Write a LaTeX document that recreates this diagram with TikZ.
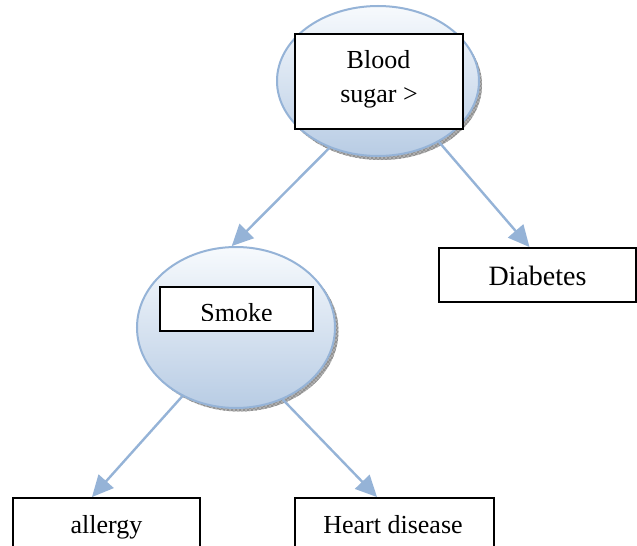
\documentclass[tikz,border=0pt]{standalone}
\usepackage{fontspec}
\setmainfont{Liberation Serif}
\usetikzlibrary{arrows.meta,patterns,shapes.geometric}
\definecolor{edgeblue}{RGB}{149,179,215}
\definecolor{elltop}{RGB}{247,250,253}
\definecolor{ellbot}{RGB}{184,204,228}
\begin{document}
\begin{tikzpicture}[x=0.75pt,y=-0.75pt,
  ell/.style={ellipse, draw=edgeblue, line width=1.5pt, top color=elltop, bottom color=ellbot, inner sep=0},
  shad/.style={ellipse, draw=none, inner sep=0, preaction={fill=gray!60}, pattern=crosshatch, pattern color=gray!90},
  box/.style={rectangle, draw=black, line width=1.4pt, fill=white, inner sep=0},
  lbl/.style={anchor=base, inner sep=0, font=\fontsize{19.5}{23}\selectfont},
  lblbig/.style={anchor=base, inner sep=0, font=\fontsize{21}{25}\selectfont},
  arr/.style={draw=edgeblue, line width=1.8pt, -{Triangle[length=16pt,width=15pt]}}]
\clip (0,0) rectangle (637,546);
\fill[white] (0,0) rectangle (637,546);
% shadows
\node[shad, minimum width=151.5pt, minimum height=112.5pt] (sh1) at (381,85) {};
\node[shad, minimum width=148.5pt, minimum height=120.75pt] (sh2) at (239.5,331) {};
% ellipses
\node[ell, minimum width=151.5pt, minimum height=112.5pt] (top) at (378,81) {};
\node[ell, minimum width=148.5pt, minimum height=120.75pt] (smoke) at (236,327.5) {};
% boxes
\node[box, minimum width=126pt, minimum height=71.25pt] (blood) at (379,81.5) {};
\node[box, minimum width=114.75pt, minimum height=33pt] (smokebox) at (236.5,309) {};
\node[box, minimum width=147.75pt, minimum height=40.5pt] (diab) at (537.5,275) {};
\node[box, minimum width=140.25pt, minimum height=46.5pt] (allergy) at (106.5,529) {};
\node[box, minimum width=149.25pt, minimum height=46.5pt] (heart) at (394.5,529) {};
% arrows
\draw[arr] (top.234) -- (smoke.93);
\draw[arr] (top.-45) -- ([xshift=-6pt]diab.north);
\draw[arr] (smoke.-128) -- ([xshift=-10.9pt]allergy.north);
\draw[arr] (smoke.-57) -- ([xshift=-13.1pt]heart.north);
% texts
\node[lbl] (bloodt) at (378.5,69) {Blood};
\node[lbl] (sugart) at (379,103) {sugar >};
\begin{scope}
\clip (160,280) rectangle (313,320.5);
\node[lbl] (smoket) at (236.5,321) {Smoke};
\end{scope}
\node[lblbig] (diabt) at (537.5,285) {Diabetes};
\node[lbl] (allergyt) at (106.5,533) {allergy};
\node[lbl] (heartt) at (393,533) {Heart disease};
\end{tikzpicture}
\end{document}
